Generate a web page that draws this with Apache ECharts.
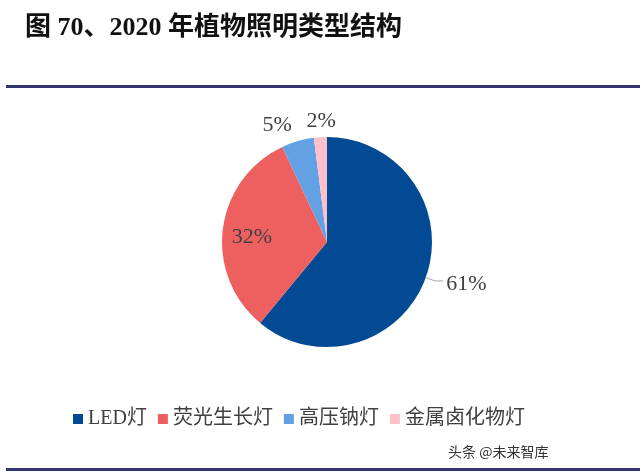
<!DOCTYPE html>
<html>
<head>
<meta charset="utf-8">
<script src="https://cdn.jsdelivr.net/npm/echarts@6/dist/echarts.min.js"></script>
<style>
html,body{margin:0;padding:0;background:#fff;}
#chart{width:640px;height:475px;}
</style>
</head>
<body>
<div id="chart"></div>
<script>
var categories = ['LED灯', '荧光生长灯', '高压钠灯', '金属卤化物灯'];
var shares = [61, 32, 5, 2];
var colors = ['#024b94', '#ee5f5f', '#63a0e4', '#ffc0cb'];
// label nudges (px) relative to ECharts' default placement
var labelShift = [[0, 3], [-20, 2], [8, -6], [27, -6]];

var chart = echarts.init(document.getElementById('chart'), null, {renderer: 'canvas'});
var serif = "'Liberation Serif', 'Times New Roman', 'Noto Sans CJK SC', serif";

var option = {
  animation: false,
  color: colors,
  title: {
    text: '图 70、2020 年植物照明类型结构',
    left: 20,
    top: 10,
    textStyle: {
      fontFamily: "'Liberation Serif', 'Noto Sans CJK SC', serif",
      fontSize: 26,
      fontWeight: 'bold',
      color: '#111'
    }
  },
  legend: {
    data: categories,
    left: 68,
    top: 404,
    itemWidth: 10,
    itemHeight: 10,
    itemGap: 11,
    icon: 'rect',
    textStyle: {fontFamily: serif, fontSize: 20, color: '#404040'}
  },
  graphic: [
    {type: 'rect', shape: {x: 6, y: 85, width: 640, height: 3}, style: {fill: '#34346e'}},
    {type: 'rect', shape: {x: 6, y: 468, width: 640, height: 3}, style: {fill: '#34346e'}},
    {type: 'text', left: 448, top: 445, style: {text: '头条 @未来智库', fontSize: 14, fill: '#333', fontFamily: "'Noto Sans CJK SC', sans-serif"}}
  ],
  series: [{
    type: 'pie',
    center: [327, 242],
    radius: [0, 105],
    startAngle: 90,
    clockwise: true,
    avoidLabelOverlap: false,
    itemStyle: {borderWidth: 0},
    label: {
      show: true,
      position: 'outside',
      formatter: '{c}%',
      fontFamily: serif,
      fontSize: 22,
      color: '#404040',
      distanceToLabelLine: 3
    },
    labelLine: {
      show: true,
      length: 10,
      length2: 8,
      smooth: false,
      lineStyle: {color: '#a6a6a6', width: 1}
    },
    labelLayout: function (params) {
      var s = labelShift[params.dataIndex];
      return {dx: s[0], dy: s[1]};
    },
    data: categories.map(function (name, i) {
      var item = {name: name, value: shares[i]};
      if (i === 1) {
        item.label = {position: 'inside'};
      } else if (i > 1) {
        item.labelLine = {show: false};
      }
      return item;
    })
  }]
};
chart.setOption(option);
</script>
</body>
</html>
